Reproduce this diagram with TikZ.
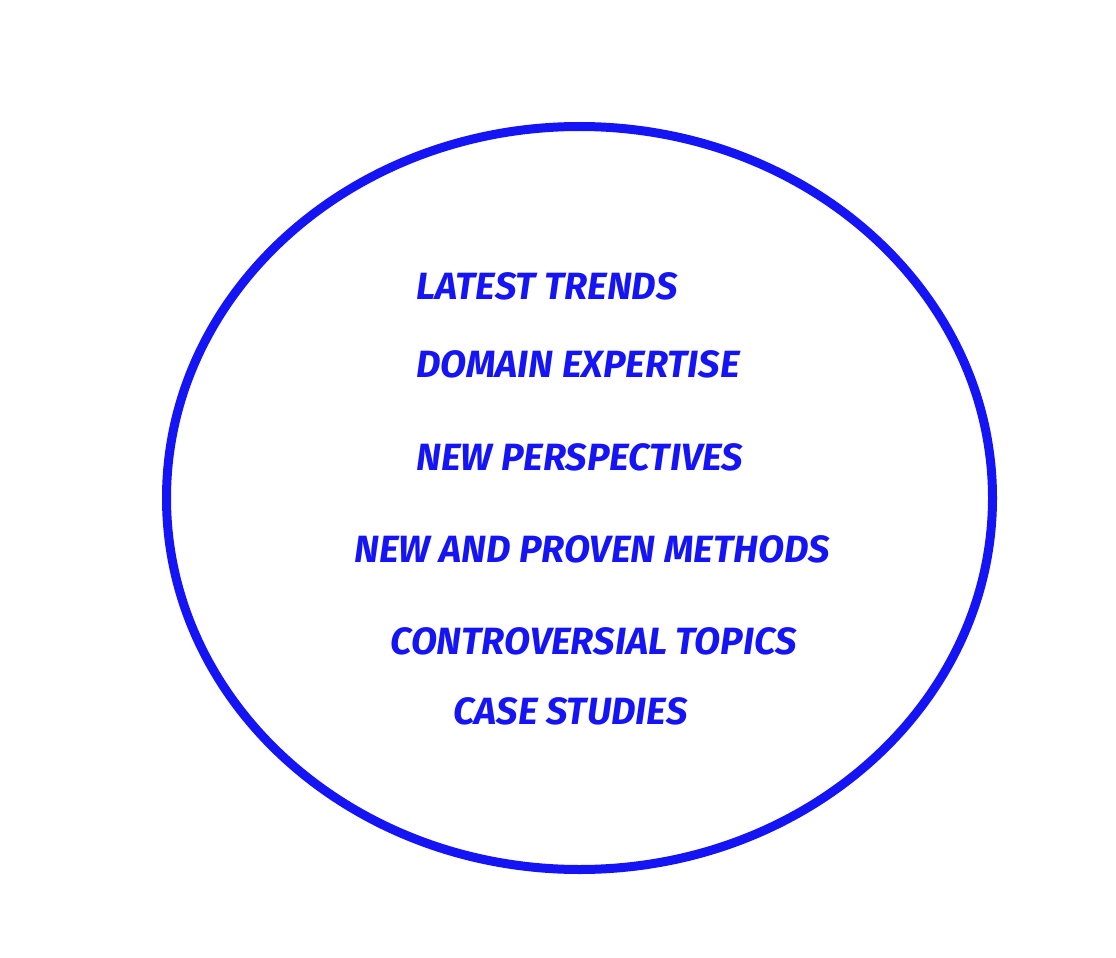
\documentclass[tikz,border=0pt]{standalone}
\usepackage{fontspec}
\setmainfont{Fira Sans}
\usepackage{xcolor}
\usetikzlibrary{positioning}
\definecolor{penblue}{RGB}{20,20,245}

\begin{document}
\begin{tikzpicture}[x=0.025cm,y=-0.025cm,
	topic/.style={
		text=penblue, anchor=west, inner sep=0pt,
		font=\fontsize{27}{30}\selectfont\bfseries\itshape
	}
	]
	\useasboundingbox (0,0) rectangle (1116,958);
	% the big ring
	\draw[penblue, line width=9*0.025cm] (579.5,498) ellipse [x radius=413, y radius=371.5];
	
	% the topics, top to bottom
	\node[topic] (trends)   at (416,286) {LATEST TRENDS};
	\node[topic] (domain)   at (416,364) {DOMAIN EXPERTISE};
	\node[topic] (perspect) at (416,457) {NEW PERSPECTIVES};
	\node[topic] (methods)  at (354,549) {NEW AND PROVEN METHODS};
	\node[topic] (controv)  at (390,641) {CONTROVERSIAL TOPICS};
	\node[topic] (cases)    at (453,711) {CASE STUDIES};
\end{tikzpicture}
\end{document}
